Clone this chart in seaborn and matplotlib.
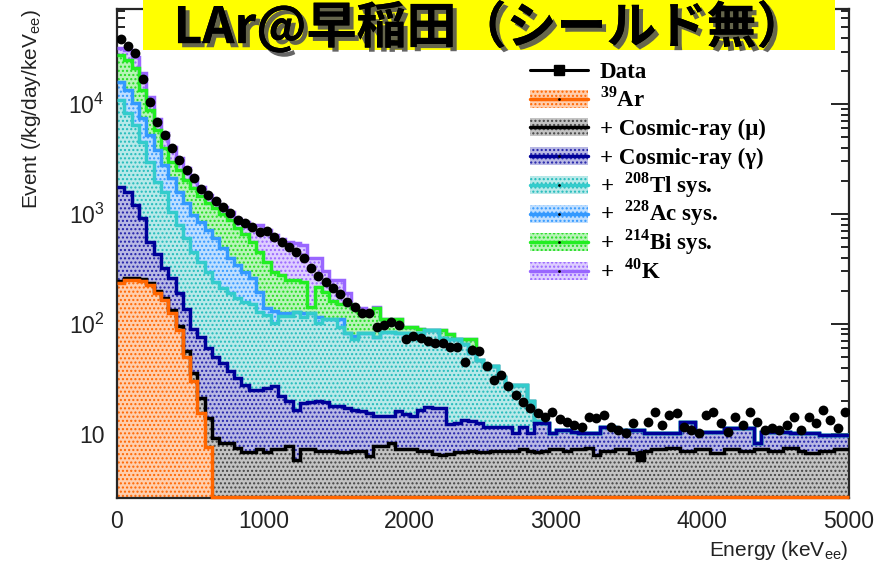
import numpy as np
import matplotlib
matplotlib.use("Agg")
import matplotlib.pyplot as plt
import matplotlib.patheffects as pe
from matplotlib.patches import Rectangle
from matplotlib.lines import Line2D
from matplotlib.ticker import FixedLocator, FixedFormatter, MultipleLocator, LogLocator, NullFormatter
import seaborn as sns

# ==========================================================
# Data (rates in /kg/day/keV_ee, 50 keV bins from 0 to 5000 keV)
# Stack layers are the visible cumulative tops of the THStack.
# ==========================================================
bin_width = 50
n_bins = 100

data_rate = [39000, 34000, 29000, 17000, 10400, 6900, 5200, 4000, 3100, 2500,
             2100, 1700, 1500, 1300, 1160, 1020, 880, 830, 760, 690,
             700, 610, 560, 500, 450, 400, 320, 270, 240, 210,
             185, 158, 143, 126, 126, 94, 98, 104, 98, 72,
             78, 75, 69, 67, 67, 62, 61, 45, 58, 56,
             41, 31, 34, 27, 22.6, 19.5, 17.2, 15.5, 14.3, 15.8,
             13.5, 12.9, 12.1, 11.6, 14.3, 14.0, 14.9, 11.6, 10.9, 10.2,
             12.6, 6.4, 12.9, 15.8, 12.1, 14.9, 15.5, 11.6, 10.9, 10.2,
             14.9, 15.8, 12.6, 10.4, 14.3, 12.1, 15.8, 12.9, 10.9, 11.3,
             10.9, 12.1, 14.3, 10.9, 14.3, 12.6, 16.5, 13.4, 11.3, 15.8]

ar39 = [236, 251, 251, 245, 226, 190, 165, 125, 88, 50, 30, 15.5, 7.5]

mu_top = [245, 260, 260, 253, 234, 198, 173, 133, 96, 56,
          36, 21, 14, 9.2, 8.2, 8.2, 7.4, 6.8, 6.8, 7.2,
          6.8, 7.2, 7.2, 7.7, 5.8, 7.2, 7.2, 6.9, 6.9, 6.9,
          6.8, 6.8, 6.9, 6.9, 6.3, 7.7, 7.7, 8.2, 7.2, 7.2,
          7.2, 7.0, 7.0, 6.6, 6.4, 6.6, 6.8, 6.8, 7.0, 6.8,
          6.8, 7.0, 7.0, 6.9, 7.0, 7.2, 7.0, 6.8, 7.0, 7.2,
          7.2, 6.9, 7.2, 7.2, 7.4, 6.4, 6.9, 6.9, 7.2, 7.2,
          6.7, 5.8, 6.9, 7.2, 7.2, 7.4, 7.4, 6.9, 6.9, 7.2,
          7.2, 6.7, 6.7, 7.2, 7.2, 6.9, 6.9, 7.2, 7.2, 6.9,
          6.9, 7.4, 7.4, 6.9, 6.7, 6.7, 6.9, 6.9, 7.2, 7.2]

gamma_top = [1760, 1580, 1200, 920, 556, 430, 320, 262, 192, 137,
             90, 76, 60, 50, 44, 37, 32, 28, 25, 25,
             26, 27, 22, 20, 16.5, 19, 19.5, 20, 19.5, 18,
             18, 17, 16.5, 16, 15.5, 14.5, 14.5, 14.5, 16, 15,
             14.5, 16.5, 17.5, 17, 17, 12.2, 12.6, 13.4, 13, 12.6,
             11.6, 11.6, 11.6, 11.6, 10.2, 11.6, 10.2, 12.6, 12.6, 10.2,
             10.9, 10.9, 10.4, 10.2, 10.2, 10.2, 11.6, 11.6, 10.9, 10.9,
             10.9, 10.9, 10.2, 10.2, 10.2, 10.2, 10.2, 12.9, 12.9, 10.4,
             10.4, 10.4, 10.4, 11.3, 11.3, 11.3, 11.3, 8.2, 10.4, 10.4,
             10.4, 10.4, 10.2, 10.2, 10.2, 10.2, 9.7, 9.7, 9.7, 9.7]

tl_top = [10800, 8300, 6450, 4500, 2970, 1960, 1580, 1040, 800, 605,
          452, 366, 296, 241, 212, 190, 173, 158, 150, 128,
          120, 102, 118, 118, 128, 116, 126, 102, 110, 110,
          94, 83, 72, 83, 83, 76, 85, 85, 83, 83,
          80, 83, 88, 88, 75, 72, 72, 65, 54, 47,
          41, 41, 33, 27, 28, 28, 20, 13]

ac_top = [16000, 13400, 10200, 7460, 5200, 3820, 2800, 2120, 1580, 1260,
          980, 850, 716, 605, 490, 400, 343, 296, 262, 194,
          140, 130, 126, 126, 126, 126, 126, 115, 110, 110,
          110, 80, 78, 78]

bi_top = [28000, 25000, 21300, 13400, 8800, 5800, 4000, 2970, 2510, 2040,
          1720, 1450, 1260, 1130, 1000, 880, 740, 650, 560, 450,
          366, 296, 278, 251, 251, 240, 143, 218, 194, 160,
          150, 150, 140, 126, 126, 140, 110, 110, 110, 94,
          94, 90, 88, 88, 88, 80, 72, 72, 72]

k_top = [32000, 31000, 27000, 19000, 11500, 7300, 5400, 4100, 3200, 2600,
         2150, 1750, 1500, 1300, 1150, 1030, 900, 850, 800, 800,
         720, 640, 590, 556, 540, 520, 400, 400, 300, 250,
         250, 190, 140, 140, 130, 143]

legend_labels = ["Data",
                 r"$^{\mathbf{39}}$Ar",
                 "+ Cosmic-ray (\u03bc)",
                 "+ Cosmic-ray (\u03b3)",
                 r"+  $^{\mathbf{208}}$Tl sys.",
                 r"+  $^{\mathbf{228}}$Ac sys.",
                 r"+  $^{\mathbf{214}}$Bi sys.",
                 r"+  $^{\mathbf{40}}$K"]

title_text = "LAr@早稲田（シールド無）"

# ==========================================================
# Style
# ==========================================================
sns.set_theme(style="ticks")
plt.rcParams['font.family'] = ['Liberation Sans', 'DejaVu Sans']
plt.rcParams['mathtext.fontset'] = 'custom'
plt.rcParams['mathtext.rm'] = 'Liberation Sans'
plt.rcParams['mathtext.it'] = 'Liberation Sans'
plt.rcParams['mathtext.bf'] = 'Liberation Serif:bold'
plt.rcParams['hatch.linewidth'] = 1.0
plt.rcParams['axes.linewidth'] = 1.6

y_min, y_max = 2.6, 7.3e4
W, H = 875, 567

edges = np.arange(n_bins + 1) * bin_width
centers = edges[:-1] + bin_width / 2


def extend(top, below):
    top = np.asarray(top, dtype=float)
    return np.maximum(np.concatenate([top, below[len(top):]]), below)


ar_full = np.concatenate([np.asarray(ar39, float), np.zeros(n_bins - len(ar39))])
mu_full = np.maximum(np.asarray(mu_top, float), ar_full)
gamma_full = np.maximum(np.asarray(gamma_top, float), mu_full)
tl_full = extend(tl_top, gamma_full)
ac_full = extend(ac_top, tl_full)
bi_full = extend(bi_top, ac_full)
k_full = extend(k_top, bi_full)


def tint(hex_color, amount):
    rgb = np.array(matplotlib.colors.to_rgb(hex_color))
    return tuple(1 - amount * (1 - rgb))


# (cumulative top, line colour, dot colour), drawn from the top of the stack down
layers = [
    (k_full, '#9966ff', '#9966ff'),
    (bi_full, '#22ee22', '#22dd22'),
    (ac_full, '#3399ff', '#3399ff'),
    (tl_full, '#33cccc', '#22bbbb'),
    (gamma_full, '#000099', '#2222aa'),
    (mu_full, '#000000', '#444444'),
    (ar_full, '#ff6600', '#ff6600'),
]

fig, ax = plt.subplots(figsize=(8.75, 5.67), dpi=100)
fig.subplots_adjust(left=0.1337, right=0.970, bottom=0.1217, top=0.984)
ax.set_yscale('log')

for top, lc, dc in layers:
    is_ar = lc == '#ff6600'
    # empty bins are drawn on the lower frame edge, as ROOT does
    shown = np.maximum(top, y_min * 1.015)
    ax.stairs(shown, edges, baseline=1.0, fill=True, facecolor=tint(dc, 0.32),
              edgecolor=dc, hatch='....', linewidth=0, zorder=2)
    ax.stairs(shown, edges, baseline=None, color=lc, linewidth=2.5,
              zorder=6 if is_ar else 3, clip_on=not is_ar)

# Data points with bin-width bars
ax.errorbar(centers, data_rate, xerr=bin_width / 2, fmt='none', ecolor='black',
            elinewidth=2, zorder=9)
sns.scatterplot(x=centers, y=data_rate, ax=ax, color='black', marker='o', s=50,
                edgecolor='black', linewidth=0, zorder=10, legend=False)

ax.set_xlim(0, 5000)
ax.set_ylim(y_min, y_max)

ax.xaxis.set_major_locator(MultipleLocator(1000))
ax.xaxis.set_minor_locator(MultipleLocator(200))
ax.yaxis.set_major_locator(FixedLocator([10, 100, 1000, 10000]))
ax.yaxis.set_major_formatter(FixedFormatter(['10', r'$10^{2}$', r'$10^{3}$', r'$10^{4}$']))
ax.yaxis.set_minor_locator(LogLocator(base=10, subs=np.arange(2, 10)))
ax.yaxis.set_minor_formatter(NullFormatter())
ax.tick_params(which='both', direction='in', top=True, right=True, labelsize=16.5,
               width=1.2, colors='black')
ax.tick_params(which='major', length=13, pad=9)
ax.tick_params(which='minor', length=6)
for lab in ax.get_xticklabels() + ax.get_yticklabels():
    lab.set_color('#222222')

ax.set_xlabel('Energy (keV$_{ee}$)', loc='right', fontsize=15, labelpad=4, color='#222222')
ax.set_ylabel('Event (/kg/day/keV$_{ee}$)', loc='top', fontsize=15, labelpad=18, color='#222222')

# ==========================================================
# Legend (ROOT TLegend style, evenly spaced rows)
# ==========================================================
leg_x0, leg_x1, leg_text_x = 530 / W, 588 / W, 600 / W
row_top, row_step, box_h = 70, 28.7, 18
leg_font = dict(family='Liberation Serif', weight='bold', size=16.5, color='black')
leg_colors = [None] + [(lc, dc) for _, lc, dc in layers[::-1]]
for i, (label, cols) in enumerate(zip(legend_labels, leg_colors)):
    yc = 1 - (row_top + i * row_step) / H
    if cols is None:
        fig.add_artist(Line2D([leg_x0, leg_x1], [yc, yc], transform=fig.transFigure,
                              color='black', lw=2.2))
        fig.add_artist(Line2D([(leg_x0 + leg_x1) / 2], [yc], transform=fig.transFigure,
                              color='black', marker='s', markersize=7, ls='none'))
    else:
        lc, dc = cols
        fig.patches.append(Rectangle((leg_x0, yc - box_h / 2 / H), leg_x1 - leg_x0, box_h / H,
                                     transform=fig.transFigure, facecolor=tint(dc, 0.32),
                                     edgecolor=dc, hatch='....', linewidth=0))
        fig.add_artist(Line2D([leg_x0, leg_x1], [yc, yc], transform=fig.transFigure,
                              color=lc, lw=2.5))
        fig.add_artist(Line2D([(leg_x0 + leg_x1) / 2], [yc], transform=fig.transFigure,
                              color='black', marker='.', markersize=2, ls='none'))
    fig.text(leg_text_x, yc - 7.5 / H, label, ha='left', va='baseline', **leg_font)

# Yellow title banner
fig.patches.append(Rectangle((0.1634, 0.912), 0.791, 0.1, transform=fig.transFigure,
                             facecolor='#ffff00', edgecolor='none', zorder=5))
fig.text(0.56, 0.924, title_text, ha='center', va='baseline', fontsize=36,
         family=['Noto Sans CJK JP', 'DejaVu Sans'], weight='bold', color='black', zorder=6,
         path_effects=[pe.withSimplePatchShadow(offset=(3, -3), shadow_rgbFace='#555555', alpha=0.9),
                       pe.Normal()])

fig.savefig('out.png', dpi=100)
